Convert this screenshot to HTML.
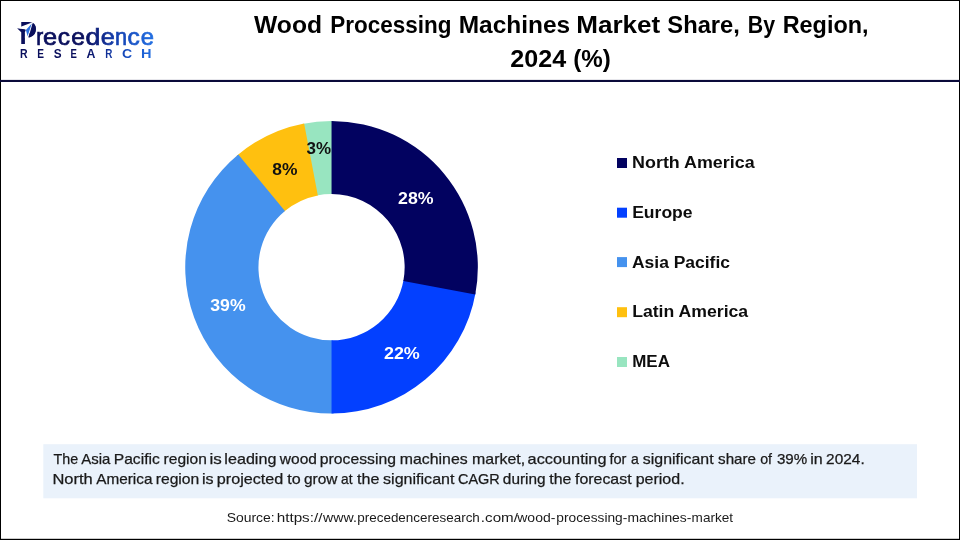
<!DOCTYPE html>
<html lang="en">
<head>
<meta charset="utf-8">
<title>Wood Processing Machines Market Share, By Region, 2024 (%)</title>
<style>
  html, body { margin: 0; padding: 0; background: #ffffff; }
  body { width: 960px; height: 540px; overflow: hidden; font-family: "Liberation Sans", sans-serif; }
  svg { display: block; position: absolute; left: 0; top: 0; }
  text { font-family: "Liberation Sans", sans-serif; white-space: pre; }
  .title { font-weight: bold; font-size: 24px; fill: #000000; }
  .pct { font-weight: bold; font-size: 16.2px; }
  .leg { font-weight: bold; font-size: 16px; fill: #0d0d0d; }
  .note { font-size: 14.4px; fill: #1a1a1a; stroke: #1a1a1a; stroke-width: 0.25px; }
  .src { font-size: 12.4px; fill: #1a1a1a; }
</style>
</head>
<body>
<svg width="960" height="540" viewBox="0 0 960 540">
  <defs>
    <linearGradient id="lg1" gradientUnits="userSpaceOnUse" x1="20" y1="0" x2="154" y2="0">
      <stop offset="0" stop-color="#0a0f5c"/>
      <stop offset="0.47" stop-color="#0a0f5c"/>
      <stop offset="0.60" stop-color="#0f2585"/>
      <stop offset="0.71" stop-color="#143fae"/>
      <stop offset="0.82" stop-color="#1850c2"/>
      <stop offset="0.97" stop-color="#206ade"/>
      <stop offset="1" stop-color="#2270e2"/>
    </linearGradient>
  </defs>

  <!-- page frame -->
  <rect x="0" y="0" width="960" height="540" fill="#ffffff"/>
  <rect x="0" y="0" width="960" height="1" fill="#000000"/>
  <rect x="0" y="0" width="1" height="540" fill="#000000"/>
  <rect x="959" y="0" width="1" height="540" fill="#000000"/>
  <rect x="0" y="538.8" width="960" height="1.2" fill="#000000"/>
  <!-- header rule -->
  <rect x="0" y="79.9" width="960" height="2.1" fill="#0a0a3a"/>

  <!-- logo -->
  <g id="logo">
    <text font-size="23.4" fill="url(#lg1)" stroke="url(#lg1)" stroke-width="0.7"><tspan x="19.52" y="44.3" font-size="31" font-weight="bold" fill="#0a0f5c" stroke="none" textLength="17.20" lengthAdjust="spacingAndGlyphs">P</tspan><tspan x="36.14" y="44.5" textLength="6.99" lengthAdjust="spacingAndGlyphs">r</tspan><tspan x="43.12" y="44.5" textLength="14.08" lengthAdjust="spacingAndGlyphs">e</tspan><tspan x="57.86" y="44.5" textLength="12.25" lengthAdjust="spacingAndGlyphs">c</tspan><tspan x="71.15" y="44.5" textLength="13.73" lengthAdjust="spacingAndGlyphs">e</tspan><tspan x="85.43" y="44.5" textLength="14.87" lengthAdjust="spacingAndGlyphs">d</tspan><tspan x="100.82" y="44.5" textLength="14.08" lengthAdjust="spacingAndGlyphs">e</tspan><tspan x="115.09" y="44.5" textLength="12.10" lengthAdjust="spacingAndGlyphs">n</tspan><tspan x="127.46" y="44.5" textLength="12.25" lengthAdjust="spacingAndGlyphs">c</tspan><tspan x="140.89" y="44.5" textLength="13.25" lengthAdjust="spacingAndGlyphs">e</tspan></text>
    <polygon points="19.5,27.2 32.6,22.2 33.4,22.6 28.1,37.7 24.9,37.7 24.9,31 26,29.7 19.5,28.6" fill="#ffffff"/>
    <path d="M32.7 23.0 C35.6 24.4 36.6 28.2 35.6 31.6 C34.6 35.2 31.6 37.6 28.4 37.6 Z" fill="#0a0f5c"/>
    <polygon points="17.1,28.3 25.9,29.7 24.9,32.2 21.2,32.2" fill="#0a0f5c"/>
    <polygon points="25.9,29.9 31.8,23.6 27.6,36.3" fill="#2a6fe0"/>
    <text y="58" font-size="12.8" font-weight="bold" fill="url(#lg1)"><tspan x="20.12" textLength="7.59" lengthAdjust="spacingAndGlyphs">R</tspan><tspan x="37.34" textLength="6.73" lengthAdjust="spacingAndGlyphs">E</tspan><tspan x="53.78" textLength="7.86" lengthAdjust="spacingAndGlyphs">S</tspan><tspan x="70.58" textLength="6.37" lengthAdjust="spacingAndGlyphs">E</tspan><tspan x="86.59" textLength="8.91" lengthAdjust="spacingAndGlyphs">A</tspan><tspan x="105.36" textLength="7.14" lengthAdjust="spacingAndGlyphs">R</tspan><tspan x="122.14" textLength="10.14" lengthAdjust="spacingAndGlyphs">C</tspan><tspan x="140.95" textLength="10.53" lengthAdjust="spacingAndGlyphs">H</tspan></text>
  </g>

  <!-- title -->
  <text class="title" y="33"><tspan x="254.00" textLength="68.03" lengthAdjust="spacingAndGlyphs">Wood</tspan> <tspan x="330.34" textLength="121.15" lengthAdjust="spacingAndGlyphs">Processing</tspan> <tspan x="458.71" textLength="111.46" lengthAdjust="spacingAndGlyphs">Machines</tspan> <tspan x="576.31" textLength="83.99" lengthAdjust="spacingAndGlyphs">Market</tspan> <tspan x="667.35" textLength="72.49" lengthAdjust="spacingAndGlyphs">Share,</tspan> <tspan x="747.81" textLength="27.26" lengthAdjust="spacingAndGlyphs">By</tspan> <tspan x="782.68" textLength="85.82" lengthAdjust="spacingAndGlyphs">Region,</tspan></text>
  <text class="title" y="67"><tspan x="510.38" textLength="55.83" lengthAdjust="spacingAndGlyphs">2024</tspan> <tspan x="573.15" textLength="37.60" lengthAdjust="spacingAndGlyphs">(%)</tspan></text>

  <!-- donut -->
  <g id="donut">
    <path d="M302.13 123.89 A146.3 146.3 0 0 1 333.59 120.91 L332.57 194.11 A73.1 73.1 0 0 0 316.85 195.59 Z" fill="#98e5c0"/>
    <path d="M236.73 155.79 A146.3 146.3 0 0 1 304.14 123.49 L317.85 195.39 A73.1 73.1 0 0 0 284.17 211.53 Z" fill="#ffc00f"/>
    <path d="M333.59 413.49 A146.3 146.3 0 0 1 238.29 154.47 L284.95 210.88 A73.1 73.1 0 0 0 332.57 340.29 Z" fill="#4592ee"/>
    <path d="M475.63 292.60 A146.3 146.3 0 0 1 331.55 413.50 L331.55 340.30 A73.1 73.1 0 0 0 403.54 279.89 Z" fill="#0340ff"/>
    <path d="M331.55 120.90 A146.3 146.3 0 0 1 475.26 294.61 L403.36 280.90 A73.1 73.1 0 0 0 331.55 194.10 Z" fill="#020260"/>
  <text class="pct" y="204" fill="#ffffff"><tspan x="398.02" textLength="35.50" lengthAdjust="spacingAndGlyphs">28%</tspan></text>
  <text class="pct" y="359" fill="#ffffff"><tspan x="383.92" textLength="35.91" lengthAdjust="spacingAndGlyphs">22%</tspan></text>
  <text class="pct" y="311" fill="#ffffff"><tspan x="210.30" textLength="35.32" lengthAdjust="spacingAndGlyphs">39%</tspan></text>
  <text class="pct" y="175" fill="#111111"><tspan x="272.38" textLength="25.16" lengthAdjust="spacingAndGlyphs">8%</tspan></text>
  <text class="pct" y="154" fill="#111111"><tspan x="306.62" textLength="24.51" lengthAdjust="spacingAndGlyphs">3%</tspan></text>
  </g>

  <!-- legend -->
  <g id="legend">
    <rect x="617" y="158" width="10" height="10" fill="#020260"/>
    <text class="leg" y="168"><tspan x="632.14" textLength="122.45" lengthAdjust="spacingAndGlyphs">North America</tspan></text>
    <rect x="617" y="207.7" width="10" height="10" fill="#0340ff"/>
    <text class="leg" y="218"><tspan x="632.16" textLength="60.41" lengthAdjust="spacingAndGlyphs">Europe</tspan></text>
    <rect x="617" y="257.1" width="10" height="10" fill="#4592ee"/>
    <text class="leg" y="268"><tspan x="631.96" textLength="98.05" lengthAdjust="spacingAndGlyphs">Asia Pacific</tspan></text>
    <rect x="617" y="307.2" width="10" height="10" fill="#ffc00f"/>
    <text class="leg" y="317"><tspan x="632.15" textLength="116.04" lengthAdjust="spacingAndGlyphs">Latin America</tspan></text>
    <rect x="617" y="357" width="10" height="10" fill="#98e5c0"/>
    <text class="leg" y="367"><tspan x="632.20" textLength="37.72" lengthAdjust="spacingAndGlyphs">MEA</tspan></text>
  </g>

  <!-- note box -->
  <rect x="43.3" y="444.2" width="873.7" height="54.1" fill="#eaf2fb"/>
  <text class="note" y="464"><tspan x="53.46" textLength="24.65" lengthAdjust="spacingAndGlyphs">The</tspan> <tspan x="81.25" textLength="29.12" lengthAdjust="spacingAndGlyphs">Asia</tspan> <tspan x="113.75" textLength="46.05" lengthAdjust="spacingAndGlyphs">Pacific</tspan> <tspan x="163.59" textLength="43.22" lengthAdjust="spacingAndGlyphs">region</tspan> <tspan x="209.49" textLength="12.30" lengthAdjust="spacingAndGlyphs">is</tspan> <tspan x="224.35" textLength="52.06" lengthAdjust="spacingAndGlyphs">leading</tspan> <tspan x="279.84" textLength="37.14" lengthAdjust="spacingAndGlyphs">wood</tspan> <tspan x="319.82" textLength="76.08" lengthAdjust="spacingAndGlyphs">processing</tspan> <tspan x="399.77" textLength="67.88" lengthAdjust="spacingAndGlyphs">machines</tspan> <tspan x="472.06" textLength="53.10" lengthAdjust="spacingAndGlyphs">market,</tspan> <tspan x="527.61" textLength="78.85" lengthAdjust="spacingAndGlyphs">accounting</tspan> <tspan x="609.42" textLength="17.04" lengthAdjust="spacingAndGlyphs">for</tspan> <tspan x="630.90" textLength="7.83" lengthAdjust="spacingAndGlyphs">a</tspan> <tspan x="642.86" textLength="70.71" lengthAdjust="spacingAndGlyphs">significant</tspan> <tspan x="718.08" textLength="37.99" lengthAdjust="spacingAndGlyphs">share</tspan> <tspan x="760.23" textLength="11.85" lengthAdjust="spacingAndGlyphs">of</tspan> <tspan x="776.93" textLength="30.28" lengthAdjust="spacingAndGlyphs">39%</tspan> <tspan x="810.21" textLength="12.51" lengthAdjust="spacingAndGlyphs">in</tspan> <tspan x="826.13" textLength="38.56" lengthAdjust="spacingAndGlyphs">2024.</tspan></text>
  <text class="note" y="484"><tspan x="52.43" textLength="40.31" lengthAdjust="spacingAndGlyphs">North</tspan> <tspan x="96.25" textLength="56.21" lengthAdjust="spacingAndGlyphs">America</tspan> <tspan x="155.68" textLength="43.64" lengthAdjust="spacingAndGlyphs">region</tspan> <tspan x="202.06" textLength="11.60" lengthAdjust="spacingAndGlyphs">is</tspan> <tspan x="216.79" textLength="66.54" lengthAdjust="spacingAndGlyphs">projected</tspan> <tspan x="287.26" textLength="13.41" lengthAdjust="spacingAndGlyphs">to</tspan> <tspan x="303.98" textLength="33.48" lengthAdjust="spacingAndGlyphs">grow</tspan> <tspan x="341.12" textLength="11.47" lengthAdjust="spacingAndGlyphs">at</tspan> <tspan x="357.06" textLength="22.38" lengthAdjust="spacingAndGlyphs">the</tspan> <tspan x="383.06" textLength="71.41" lengthAdjust="spacingAndGlyphs">significant</tspan> <tspan x="458.03" textLength="41.81" lengthAdjust="spacingAndGlyphs">CAGR</tspan> <tspan x="502.89" textLength="42.71" lengthAdjust="spacingAndGlyphs">during</tspan> <tspan x="549.36" textLength="22.12" lengthAdjust="spacingAndGlyphs">the</tspan> <tspan x="575.00" textLength="56.57" lengthAdjust="spacingAndGlyphs">forecast</tspan> <tspan x="635.70" textLength="48.94" lengthAdjust="spacingAndGlyphs">period.</tspan></text>

  <!-- source -->
  <text class="src" y="522"><tspan x="226.67" textLength="51.87" lengthAdjust="spacingAndGlyphs">Source: </tspan><tspan x="276.72" textLength="45.73" lengthAdjust="spacingAndGlyphs">https://</tspan><tspan x="323.14" textLength="33.72" lengthAdjust="spacingAndGlyphs">www.</tspan><tspan x="357.26" textLength="122.61" lengthAdjust="spacingAndGlyphs">precedenceresearch</tspan><tspan x="480.89" textLength="37.08" lengthAdjust="spacingAndGlyphs">.com/</tspan><tspan x="517.28" textLength="38.08" lengthAdjust="spacingAndGlyphs">wood-</tspan><tspan x="556.39" textLength="70.91" lengthAdjust="spacingAndGlyphs">processing-</tspan><tspan x="627.40" textLength="64.00" lengthAdjust="spacingAndGlyphs">machines-</tspan><tspan x="691.62" textLength="41.47" lengthAdjust="spacingAndGlyphs">market</tspan></text>
</svg>
</body>
</html>
